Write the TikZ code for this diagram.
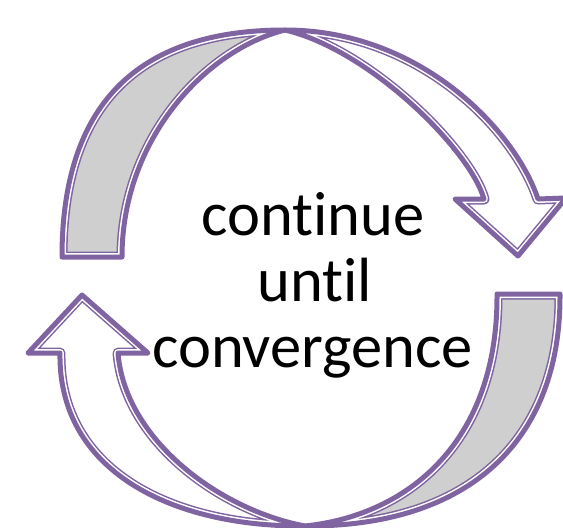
\documentclass[tikz,border=0pt]{standalone}
\usepackage{fontspec}
\setmainfont{Carlito}[Ligatures={NoCommon}]
\definecolor{arrowpurple}{RGB}{128,100,162}
\definecolor{bandgray}{RGB}{207,207,207}
\newcommand\ribbonshape[2]{%
  \fill[#1] #2;
  \begin{scope}
    \clip #2;
    \draw[arrowpurple, line width=11pt, line join=round] #2;
    \draw[white, line width=8pt, line join=round] #2;
  \end{scope}
  \draw[arrowpurple, line width=5pt, line join=round] #2;
}
\begin{document}
\begin{tikzpicture}[x=1pt,y=-1pt]
\useasboundingbox (0,0) rectangle (563,528);
% top arrow, grey back part
\def\TopGray{(62,257) .. controls (62,107) and (135,30) .. (285,30)
  .. controls (205,50) and (122,140) .. (122,257) -- cycle}
% top arrow, white front part with head
\def\TopWhite{(285,30) .. controls (420,30) and (515,130) .. (538,199)
  -- (566,198) -- (518,256) -- (455,199) -- (484,199)
  .. controls (470,150) and (370,50) .. (285,30) -- cycle}
% bottom arrow, grey back part
\def\BotGray{(560,294) .. controls (561,440) and (470,527) .. (305,526)
  .. controls (410,515) and (498,440) .. (497,294) -- cycle}
% bottom arrow, white front part with head
\def\BotWhite{(305,526) .. controls (170,527) and (58,470) .. (60,353)
  -- (28,353) -- (82,295) -- (148,353) -- (118,353)
  .. controls (125,440) and (220,510) .. (305,526) -- cycle}
\ribbonshape{bandgray}{\TopGray}
\ribbonshape{white}{\TopWhite}
\ribbonshape{bandgray}{\BotGray}
\ribbonshape{white}{\BotWhite}
\tikzset{looptext/.style={anchor=base, font=\fontsize{62.5}{66}\selectfont, inner sep=0pt}}
\node[looptext] (l1) at (313,235) {continue};
\node[looptext] (l2) at (315,301) {until};
\node[looptext] (l3) at (312.5,367) {convergence};
\end{tikzpicture}
\end{document}
